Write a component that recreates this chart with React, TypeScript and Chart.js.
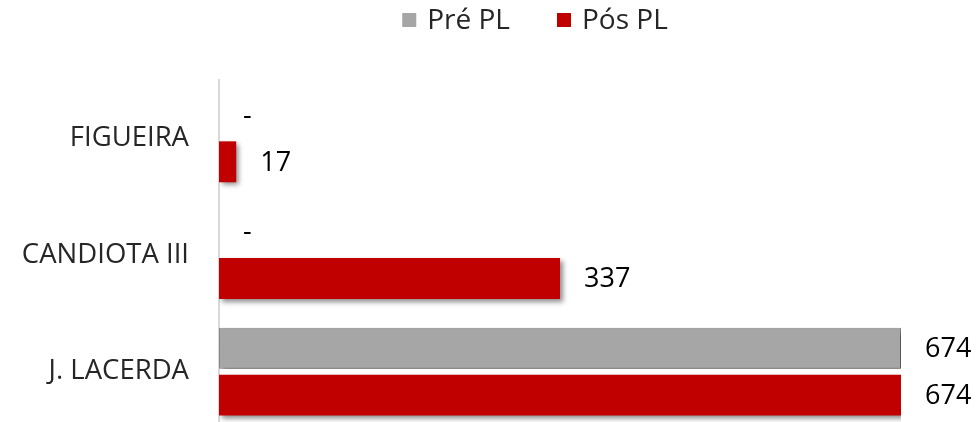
import React, { useEffect, useRef } from "react";
import { Chart, registerables } from "chart.js";

Chart.register(...registerables);

const categories = ["FIGUEIRA", "CANDIOTA III", "J. LACERDA"];
const prePL = [0, 0, 674];
const posPL = [17, 337, 674];
const seriesNames = ["Pré PL", "Pós PL"];
const seriesColors = ["#a6a6a6", "#c00000"];

const FONT = "'Open Sans', 'Noto Sans', sans-serif";

const shadowPlugin = {
  id: "barShadow",
  beforeDatasetsDraw(chart: any) {
    const ctx = chart.ctx;
    ctx.save();
    ctx.shadowColor = "rgba(0,0,0,0.45)";
    ctx.shadowBlur = 5;
    ctx.shadowOffsetX = 3;
    ctx.shadowOffsetY = 3;
  },
  afterDatasetsDraw(chart: any) {
    chart.ctx.restore();
  },
};

const labelPlugin = {
  id: "valueLabels",
  afterDraw(chart: any) {
    const ctx = chart.ctx;
    ctx.save();
    ctx.font = `27px ${FONT}`;
    ctx.fillStyle = "#000";
    ctx.textBaseline = "middle";
    ctx.textAlign = "left";
    chart.data.datasets.forEach((ds: any, i: number) => {
      const meta = chart.getDatasetMeta(i);
      meta.data.forEach((bar: any, j: number) => {
        const v = ds.data[j];
        const txt = v === 0 ? "-" : String(v);
        ctx.fillText(txt, bar.x + 24, bar.y + 1);
      });
    });
    ctx.restore();
  },
};

const legendPlugin = {
  id: "customLegend",
  afterDraw(chart: any) {
    const ctx = chart.ctx;
    ctx.save();
    ctx.font = `28px ${FONT}`;
    ctx.textBaseline = "middle";
    ctx.textAlign = "left";
    const box = 14;
    const gapBoxText = 11;
    const gapItems = 47;
    const widths = seriesNames.map((n) => ctx.measureText(n).width);
    const total = widths.reduce((a, w) => a + box + gapBoxText + w, 0) + gapItems * (seriesNames.length - 1);
    const centerX = chart.width / 2 + 45;
    let x = centerX - total / 2;
    const cy = 20;
    seriesNames.forEach((n, i) => {
      ctx.fillStyle = seriesColors[i];
      ctx.fillRect(x, cy - box / 2, box, box);
      x += box + gapBoxText;
      ctx.fillStyle = "#262626";
      ctx.fillText(n, x, cy + 1);
      x += widths[i] + gapItems;
    });
    ctx.restore();
  },
};

export default function App() {
  const ref = useRef<HTMLCanvasElement>(null);
  useEffect(() => {
    if (!ref.current) return;
    const chart = new Chart(ref.current, {
      type: "bar",
      data: {
        labels: categories,
        datasets: [
          {
            label: seriesNames[0],
            data: prePL,
            backgroundColor: seriesColors[0],
            borderColor: "#8c8c8c",
            borderWidth: 1,
            borderSkipped: false,
            categoryPercentage: 0.805,
            barPercentage: 0.872,
          },
          {
            label: seriesNames[1],
            data: posPL,
            backgroundColor: seriesColors[1],
            borderWidth: 0,
            categoryPercentage: 0.805,
            barPercentage: 0.872,
          },
        ],
      },
      options: {
        indexAxis: "y",
        responsive: false,
        animation: false,
        layout: { padding: { left: 22, right: 79, top: 80, bottom: 2 } },
        plugins: {
          legend: { display: false },
          tooltip: { enabled: false },
        },
        scales: {
          x: {
            display: false,
            min: 0,
            max: 674,
          },
          y: {
            grid: { display: false, drawTicks: false },
            border: { display: true, color: "#d9d9d9", width: 2 },
            ticks: {
              font: { family: FONT, size: 27.5 },
              color: "#262626",
              padding: 30,
            },
            afterFit: (scale: any) => {
              scale.width = 197;
              scale.paddingTop = 0;
              scale.paddingBottom = 0;
            },
          },
        },
      },
      plugins: [shadowPlugin, labelPlugin, legendPlugin],
    });
    return () => chart.destroy();
  }, []);
  return (
    <div style={{ position: "absolute", left: 0, top: 0, width: 980, height: 422, overflow: "hidden" }}>
      <canvas ref={ref} width={980} height={432} style={{ display: "block" }} />
    </div>
  );
}
